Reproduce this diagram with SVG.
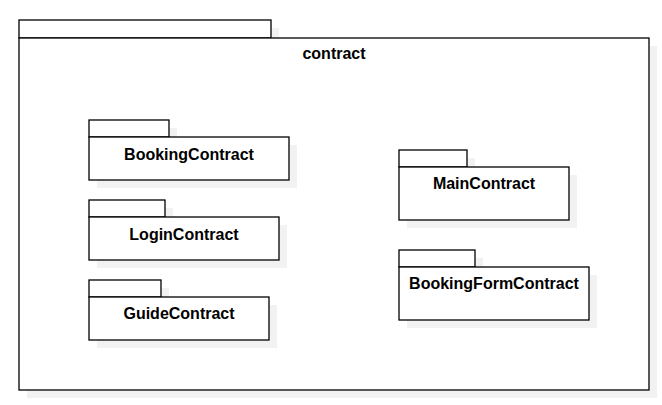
<svg xmlns="http://www.w3.org/2000/svg" width="662" height="405" viewBox="0 0 662 405">
<defs>
<style>
.s{fill:#f2f2f2;stroke:none}
.b{fill:#ffffff;stroke:#000000;stroke-width:1.3}
.t{font-family:"Liberation Sans",Arial,sans-serif;font-weight:bold;font-size:16px;fill:#000000;text-anchor:middle}
</style>
</defs>
<rect width="662" height="405" fill="#ffffff"/>
<g id="contract">
<rect class="s" x="27" y="28" width="252" height="18"/>
<rect class="s" x="27" y="46" width="630" height="352"/>
<rect class="b" x="19" y="20" width="252" height="18"/>
<rect class="b" x="19" y="38" width="630" height="352"/>
<text class="t" x="334" y="59">contract</text>
</g>
<g id="BookingContract">
<rect class="s" x="97" y="128" width="80" height="17"/>
<rect class="s" x="97" y="145" width="200" height="43"/>
<rect class="b" x="89" y="120" width="80" height="17"/>
<rect class="b" x="89" y="137" width="200" height="43"/>
<text class="t" x="189" y="160">BookingContract</text>
</g>
<g id="LoginContract">
<rect class="s" x="97" y="208" width="76" height="17"/>
<rect class="s" x="97" y="225" width="190" height="43"/>
<rect class="b" x="89" y="200" width="76" height="17"/>
<rect class="b" x="89" y="217" width="190" height="43"/>
<text class="t" x="184" y="240">LoginContract</text>
</g>
<g id="GuideContract">
<rect class="s" x="97" y="288" width="72" height="17"/>
<rect class="s" x="97" y="305" width="180" height="43"/>
<rect class="b" x="89" y="280" width="72" height="17"/>
<rect class="b" x="89" y="297" width="180" height="43"/>
<text class="t" x="179" y="319">GuideContract</text>
</g>
<g id="MainContract">
<rect class="s" x="407" y="158" width="68" height="17"/>
<rect class="s" x="407" y="175" width="170" height="53"/>
<rect class="b" x="399" y="150" width="68" height="17"/>
<rect class="b" x="399" y="167" width="170" height="53"/>
<text class="t" x="484" y="189">MainContract</text>
</g>
<g id="BookingFormContract">
<rect class="s" x="407" y="258" width="76" height="17"/>
<rect class="s" x="407" y="275" width="190" height="53"/>
<rect class="b" x="399" y="250" width="76" height="17"/>
<rect class="b" x="399" y="267" width="190" height="53"/>
<text class="t" x="494" y="289">BookingFormContract</text>
</g>
<g id="connectors"></g>
</svg>
